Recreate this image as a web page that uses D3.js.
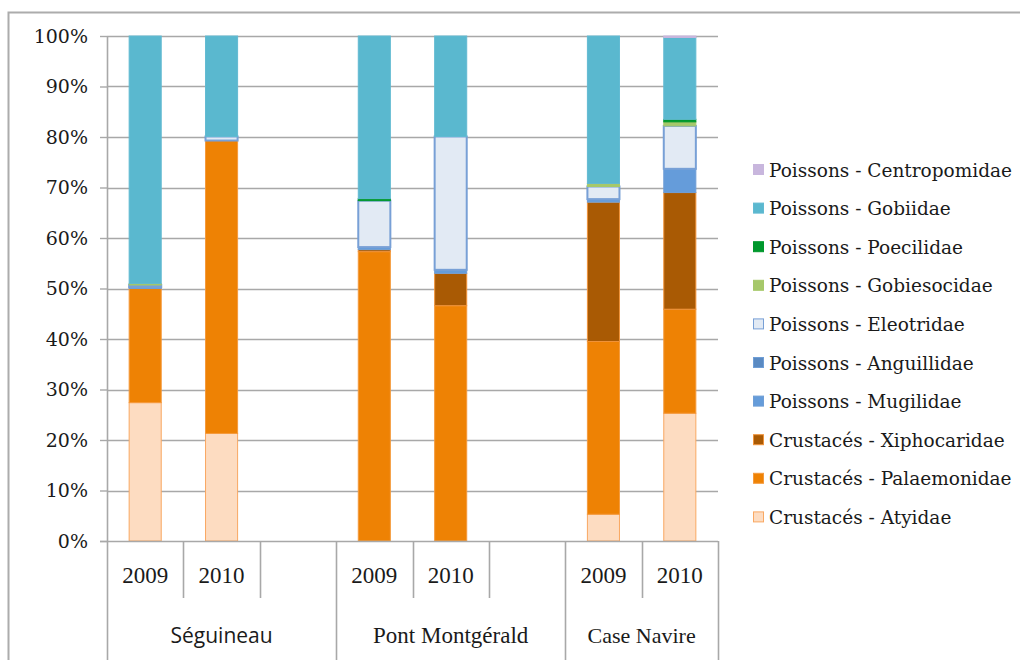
<!DOCTYPE html>
<html>
<head>
<meta charset="utf-8">
<script src="https://cdn.jsdelivr.net/npm/d3@7"></script>
<style>
  html, body { margin: 0; padding: 0; background: #fff; }
  svg { display: block; }
</style>
</head>
<body>
<svg id="chart" width="1020" height="660"></svg>
<script>
// Sites and years, one slot per bar; empty slots keep the groups apart
const sites = ["Séguineau", "Pont Montgérald", "Case Navire"];
const slots = [
  { site: "Séguineau", year: "2009" },
  { site: "Séguineau", year: "2010" },
  { site: "Séguineau", year: "" },
  { site: "Pont Montgérald", year: "2009" },
  { site: "Pont Montgérald", year: "2010" },
  { site: "Pont Montgérald", year: "" },
  { site: "Case Navire", year: "2009" },
  { site: "Case Navire", year: "2010" }
];

// Stack order, bottom to top
const seriesNames = [
  "Crustacés - Atyidae",
  "Crustacés - Palaemonidae",
  "Crustacés - Xiphocaridae",
  "Poissons - Mugilidae",
  "Poissons - Anguillidae",
  "Poissons - Eleotridae",
  "Poissons - Gobiesocidae",
  "Poissons - Poecilidae",
  "Poissons - Gobiidae",
  "Poissons - Centropomidae"
];

// Percentages per slot (empty slots hold zeros)
const atyidae       = [27.4, 21.3, 0, 0,    0,    0, 5.3,  25.3];
const palaemonidae  = [22.6, 58.0, 0, 57.3, 46.6, 0, 34.2, 20.6];
const xiphocaridae  = [0,    0,    0, 0.4,  6.4,  0, 27.6, 23.1];
const mugilidae     = [0.3,  0,    0, 0.5,  0.7,  0, 0.6,  4.7];
const anguillidae   = [0,    0,    0, 0,    0,    0, 0,    0];
const eleotridae    = [0.4,  0.8,  0, 9.2,  26.4, 0, 2.5,  8.5];
const gobiesocidae  = [0.3,  0,    0, 0,    0,    0, 0.6,  0.8];
const poecilidae    = [0,    0,    0, 0.4,  0,    0, 0,    0.5];
const gobiidae      = [49.0, 19.9, 0, 32.2, 19.9, 0, 29.2, 16.2];
const centropomidae = [0,    0,    0, 0,    0,    0, 0,    0.3];

const seriesValues = [atyidae, palaemonidae, xiphocaridae, mugilidae, anguillidae,
  eleotridae, gobiesocidae, poecilidae, gobiidae, centropomidae];

const yTicks = [0, 0.1, 0.2, 0.3, 0.4, 0.5, 0.6, 0.7, 0.8, 0.9, 1.0];

// Fill and outline for each series
const fills = {
  "Crustacés - Atyidae": "#FDDCC1",
  "Crustacés - Palaemonidae": "#EE8204",
  "Crustacés - Xiphocaridae": "#A95A04",
  "Poissons - Mugilidae": "#659CDA",
  "Poissons - Anguillidae": "#5A8AC2",
  "Poissons - Eleotridae": "#E2EAF4",
  "Poissons - Gobiesocidae": "#A6C86A",
  "Poissons - Poecilidae": "#00982C",
  "Poissons - Gobiidae": "#5AB8CF",
  "Poissons - Centropomidae": "#C8B6DD"
};
const strokes = {
  "Crustacés - Atyidae": "#F9A862",
  "Crustacés - Palaemonidae": "#F59A3C",
  "Crustacés - Xiphocaridae": "#F0933A",
  "Poissons - Mugilidae": "#6F9ED6",
  "Poissons - Anguillidae": "#6F9ED6",
  "Poissons - Eleotridae": "#78A0D6",
  "Poissons - Gobiesocidae": "#A6C86A",
  "Poissons - Poecilidae": "#00982C",
  "Poissons - Gobiidae": "#62BAD2",
  "Poissons - Centropomidae": "#C8B6DD"
};

const svg = d3.select("#chart");
const margin = { left: 107, right: 302, top: 36, bottom: 119 };
const W = 1020, H = 660;
const plotRight = W - margin.right;
const plotBottom = H - margin.bottom;

// Outer chart frame (top and left edges)
svg.append("path")
  .attr("d", `M8.5,${H} V12.5 H${W}`)
  .attr("fill", "none").attr("stroke", "#ACACAC").attr("stroke-width", 2);

const x = d3.scaleBand()
  .domain(d3.range(slots.length))
  .range([margin.left, plotRight])
  .paddingInner(0).paddingOuter(0);
const barW = x.bandwidth() * 0.42;

const y = d3.scaleLinear().domain([0, 1]).range([plotBottom, margin.top]);

// Horizontal gridlines
svg.append("g")
  .selectAll("line")
  .data(yTicks.slice(1))
  .join("line")
  .attr("x1", margin.left).attr("x2", plotRight)
  .attr("y1", d => Math.round(y(d)) + 0.5).attr("y2", d => Math.round(y(d)) + 0.5)
  .attr("stroke", "#A8A8A8").attr("stroke-width", 1.6);

// Y axis
const yAxis = d3.axisLeft(y)
  .tickValues(yTicks)
  .tickFormat(d3.format(".0%"))
  .tickSize(7)
  .tickPadding(12);
const gy = svg.append("g")
  .attr("transform", `translate(${margin.left},0)`)
  .call(yAxis);
gy.select(".domain").remove();
gy.selectAll(".tick line").attr("stroke", "#A8A8A8").attr("stroke-width", 1.4);
gy.selectAll(".tick text")
  .attr("fill", "#1a1a1a")
  .style("font-family", "'DejaVu Serif', serif")
  .style("font-size", "19px");

// Stacked bars
const table = slots.map((s, i) => {
  const row = { i };
  seriesNames.forEach((name, k) => { row[name] = seriesValues[k][i] / 100; });
  return row;
});
const stacked = d3.stack().keys(seriesNames)(table);

svg.append("g")
  .selectAll("g")
  .data(stacked)
  .join("g")
  .attr("fill", d => fills[d.key])
  .attr("stroke", d => strokes[d.key])
  .attr("stroke-width", d => d.key === "Poissons - Eleotridae" ? 2 : 1)
  .selectAll("rect")
  .data(d => d.filter(p => p[1] - p[0] > 0))
  .join("rect")
  .attr("x", p => x(p.data.i) + (x.bandwidth() - barW) / 2)
  .attr("width", barW)
  .attr("y", p => y(p[1]))
  .attr("height", p => Math.max(0.8, y(p[0]) - y(p[1])));

// Baseline
svg.append("line")
  .attr("x1", margin.left - 7).attr("x2", plotRight)
  .attr("y1", plotBottom + 0.5).attr("y2", plotBottom + 0.5)
  .attr("stroke", "#A8A8A8").attr("stroke-width", 1.6);

// Category axis: short separators between years, long ones between sites
const boundaries = d3.range(slots.length + 1);
const boundaryX = b => b === slots.length ? plotRight : x(b);
const isSiteEdge = b => b === 0 || b === slots.length || slots[b].site !== slots[b - 1].site;

svg.append("g")
  .selectAll("line")
  .data(boundaries)
  .join("line")
  .attr("x1", b => Math.round(boundaryX(b)) + 0.5)
  .attr("x2", b => Math.round(boundaryX(b)) + 0.5)
  .attr("y1", b => b === 0 ? margin.top : plotBottom)
  .attr("y2", b => isSiteEdge(b) ? H : 598)
  .attr("stroke", "#A8A8A8").attr("stroke-width", 1.6);

// Year labels
svg.append("g")
  .selectAll("text")
  .data(slots.map((s, i) => ({ ...s, i })).filter(s => s.year))
  .join("text")
  .attr("x", s => x(s.i) + x.bandwidth() / 2)
  .attr("y", 583)
  .attr("text-anchor", "middle")
  .attr("fill", "#1a1a1a")
  .style("font-family", "'Liberation Serif', serif")
  .style("font-size", "23px")
  .text(s => s.year);

// Site labels, centred under each site's span
const siteFonts = {
  "Séguineau": "'Open Sans', sans-serif",
  "Pont Montgérald": "'Liberation Serif', serif",
  "Case Navire": "'Liberation Serif', serif"
};
const siteSizes = { "Séguineau": "21px", "Pont Montgérald": "23px", "Case Navire": "22px" };
svg.append("g")
  .selectAll("text")
  .data(sites)
  .join("text")
  .attr("x", site => {
    const idx = slots.map((s, i) => s.site === site ? i : -1).filter(i => i >= 0);
    const x0 = x(idx[0]);
    const x1 = x(idx[idx.length - 1]) + x.bandwidth();
    return (x0 + x1) / 2;
  })
  .attr("y", 643)
  .attr("text-anchor", "middle")
  .attr("fill", "#1a1a1a")
  .style("font-family", site => siteFonts[site])
  .style("font-size", site => siteSizes[site])
  .text(site => site);

// Legend, top entry is the top of the stack
const legendNames = seriesNames.slice().reverse();
const legend = svg.append("g")
  .selectAll("g")
  .data(legendNames)
  .join("g")
  .attr("transform", (d, i) => `translate(753, ${170 + i * 38.6})`);
legend.append("rect")
  .attr("x", 0.5).attr("y", -5.5)
  .attr("width", 10).attr("height", 10)
  .attr("fill", d => fills[d])
  .attr("stroke", d => strokes[d])
  .attr("stroke-width", 1);
legend.append("text")
  .attr("x", 16)
  .attr("y", 0)
  .attr("dy", "0.36em")
  .attr("fill", "#1a1a1a")
  .style("font-family", "'DejaVu Serif', serif")
  .style("font-size", "18.5px")
  .text(d => d);
</script>
</body>
</html>
